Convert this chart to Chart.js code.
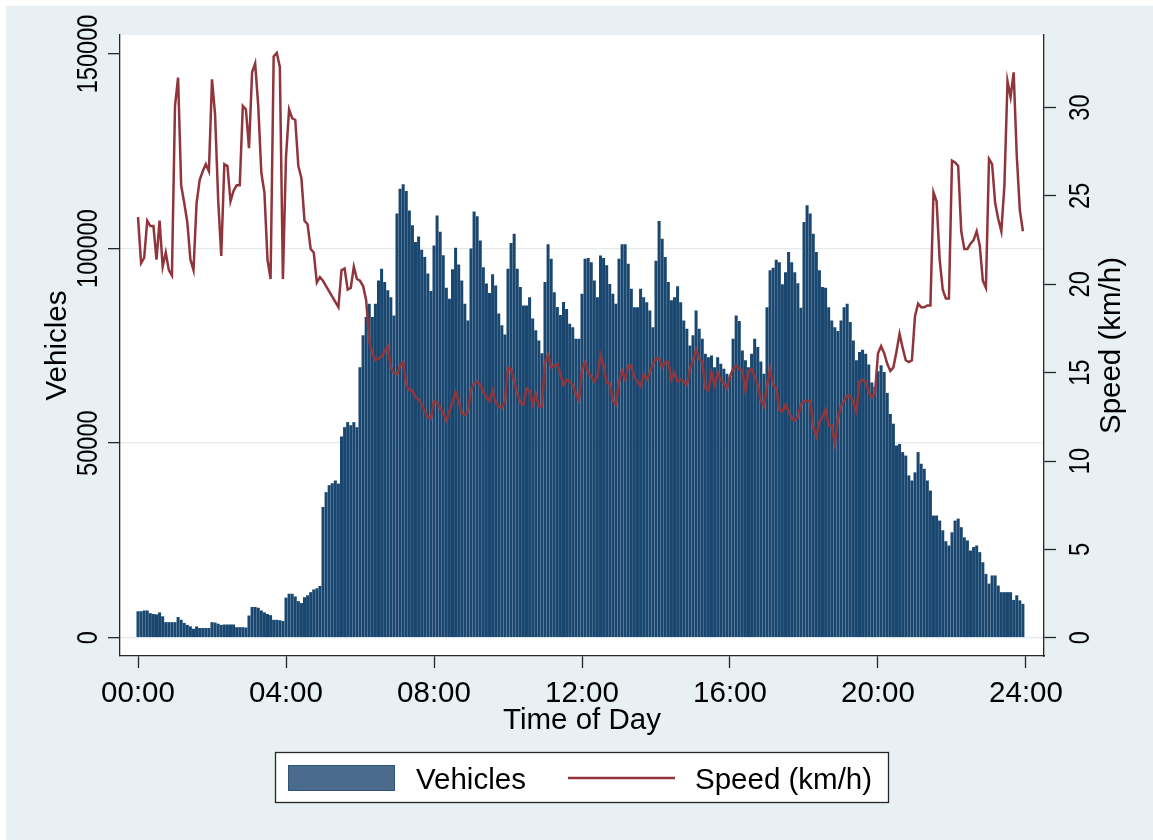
<!DOCTYPE html>
<html>
<head>
<meta charset="utf-8">
<title>Vehicles and speed by time of day</title>
<script src="https://cdn.jsdelivr.net/npm/chart.js@4.4.1/dist/chart.umd.min.js"></script>
<style>
  html, body { margin: 0; padding: 0; background: #fff; }
  canvas { display: block; }
</style>
</head>
<body>
<canvas id="chartTrafico" width="1153" height="840"></canvas>
<script>
// one value per 5-minute slot, 00:00 .. 23:55
const vehicles = [
  6800, 6800, 7000, 7000, 6300, 6100, 6000, 6500, 5500, 4000,
  4000, 4000, 4000, 5300, 4600, 3800, 3300, 2900, 2300, 2900,
  2500, 2500, 2500, 2500, 4000, 3900, 3600, 3300, 3400, 3400,
  3400, 3400, 2700, 2700, 2700, 2600, 5700, 7900, 7900, 7700,
  7000, 6500, 6100, 5800, 4600, 4600, 4500, 4300, 10300, 11300,
  11300, 10600, 9400, 8900, 10400, 10900, 11700, 12400, 12700, 13300,
  33600, 37400, 39200, 39700, 40400, 39600, 51700, 54100, 55400, 54600,
  55400, 54100, 69500, 77700, 82400, 85800, 82400, 85800, 91800, 94800,
  91400, 89300, 87500, 82800, 109000, 115400, 116500, 114800, 109800, 106000,
  101700, 103100, 99700, 97800, 93600, 89100, 100800, 108500, 104300, 98300,
  89900, 87100, 94700, 100200, 95900, 91800, 85800, 81500, 100000, 109500,
  108300, 102100, 95200, 91000, 88600, 93400, 90500, 83300, 80300, 77900,
  94800, 101400, 103800, 94800, 90100, 85400, 85400, 87500, 82000, 79000,
  76400, 73100, 91400, 101100, 97400, 88800, 85000, 82900, 86300, 84500,
  80700, 79800, 76800, 76800, 88400, 97400, 97600, 96500, 91800, 87500,
  98200, 97600, 95700, 90900, 88400, 85800, 97400, 101100, 101100, 96100,
  89700, 84900, 84900, 89700, 87500, 86200, 84100, 79800, 96900, 107100,
  102500, 97800, 91400, 86700, 87500, 90300, 86200, 81500, 79400, 75100,
  77700, 84100, 79400, 76800, 73000, 72100, 72500, 69500, 72100, 70400,
  69100, 67800, 67000, 76800, 82800, 81400, 73800, 71300, 69500, 73000,
  76800, 74700, 71000, 67800, 84900, 94400, 95100, 97100, 96500, 90800,
  93900, 99100, 96500, 93900, 91100, 84800, 106800, 111100, 109000, 103800,
  99100, 94400, 90100, 89900, 84900, 81500, 79800, 78800, 81500, 84900,
  85800, 81100, 76400, 71300, 73400, 74000, 73000, 70200, 65600, 64500,
  68500, 70000, 68300, 62900, 57500, 55000, 49400, 49800, 47700, 46800,
  41700, 40400, 42500, 47700, 44700, 43400, 40400, 37800, 31400, 31400,
  30100, 27600, 24800, 23700, 27100, 30100, 30600, 28400, 25800, 25000,
  22400, 23300, 23700, 22000, 19400, 16400, 13900, 16000, 16000, 13400,
  11700, 11700, 11700, 11700, 9700, 10900, 9600, 8700
];

const speed = [
  23.8, 21.2, 21.5, 23.6, 23.3, 23.3, 21.4, 23.6, 21.0, 21.8,
  20.8, 20.5, 30.1, 31.7, 25.6, 24.6, 23.5, 21.4, 20.8, 24.6,
  25.9, 26.4, 26.8, 26.4, 31.6, 29.6, 24.8, 21.6, 26.8, 26.7,
  24.7, 25.3, 25.6, 25.6, 30.1, 29.9, 27.7, 32.0, 32.5, 30.1,
  26.3, 25.2, 21.4, 20.3, 32.9, 33.1, 32.3, 20.3, 27.2, 29.9,
  29.4, 29.3, 26.7, 26.0, 23.6, 23.4, 22.0, 21.8, 20.1, 20.4,
  20.2, 19.9, 19.6, 19.3, 19.0, 18.7, 20.8, 20.9, 19.7, 19.8,
  21.0, 20.3, 20.2, 19.9, 19.1, 16.8, 16.1, 15.7, 15.8, 15.9,
  16.2, 16.5, 15.3, 15.0, 14.9, 15.4, 15.6, 14.3, 14.0, 14.0,
  13.6, 13.5, 13.2, 12.8, 12.5, 12.4, 13.4, 13.3, 13.0, 12.7,
  12.3, 12.8, 13.3, 13.9, 13.4, 12.7, 12.6, 12.8, 14.0, 14.4,
  14.5, 14.3, 13.9, 13.6, 13.4, 14.0, 13.3, 13.1, 13.0, 13.4,
  15.3, 15.2, 14.5, 13.8, 13.3, 13.2, 14.1, 14.0, 13.2, 13.8,
  13.1, 13.1, 15.6, 16.0, 15.3, 15.4, 15.5, 14.9, 14.3, 14.6,
  14.5, 14.3, 13.8, 13.4, 15.2, 15.6, 15.0, 14.8, 14.5, 14.8,
  16.0, 15.4, 14.4, 14.4, 13.4, 13.2, 14.5, 15.1, 14.6, 15.4,
  15.4, 14.7, 14.5, 14.2, 14.9, 14.6, 15.0, 15.5, 15.8, 15.8,
  15.3, 15.6, 15.6, 14.6, 15.0, 14.5, 14.6, 14.5, 14.3, 15.2,
  15.7, 16.3, 15.8, 15.6, 14.1, 14.0, 15.0, 14.3, 15.0, 14.6,
  14.4, 14.1, 14.8, 15.2, 15.4, 15.2, 15.1, 14.0, 15.1, 15.2,
  14.8, 14.3, 13.4, 13.1, 14.3, 15.2, 14.3, 14.1, 12.9, 12.8,
  13.2, 12.8, 12.4, 12.3, 12.5, 13.2, 13.4, 13.4, 13.4, 11.9,
  11.4, 12.2, 12.5, 12.9, 12.0, 12.0, 11.0, 12.4, 13.1, 13.4,
  13.7, 13.7, 13.3, 12.8, 14.5, 14.6, 14.5, 13.9, 13.6, 13.8,
  16.1, 16.5, 16.1, 15.5, 15.1, 15.3, 16.2, 17.2, 16.4, 15.7,
  15.6, 15.7, 18.2, 18.9, 18.7, 18.7, 18.8, 18.8, 25.2, 24.7,
  21.4, 19.7, 19.2, 19.2, 27.0, 26.9, 26.7, 23.0, 22.0, 22.0,
  22.3, 22.5, 23.0, 22.2, 20.2, 19.8, 27.1, 26.8, 24.6, 23.7,
  23.0, 25.6, 31.5, 30.6, 32.0, 27.3, 24.2, 23.0
];

const hourTicks = [0, 4, 8, 12, 16, 20, 24];
const hourLabels = ["00:00", "04:00", "08:00", "12:00", "16:00", "20:00", "24:00"];
const vehicleTicks = [0, 50000, 100000, 150000];
const speedTicks = [0, 5, 10, 15, 20, 25, 30];

// slot start in hours
const slotHours = vehicles.map((_, i) => i * 5 / 60);

const FONT = '"Liberation Sans", Arial, Helvetica, sans-serif';
const NAVY = "#1a476f";
const MAROON = "#90353b";
const FONDO = "#e8f0f3";
const GRILLA = "#e2eaee";
const EJE = "#262626";

function fixTicks(values) {
  return scale => { scale.ticks = values.map(v => ({ value: v })); };
}

// texto girado 90 grados, se lee de abajo hacia arriba
function textoVertical(ctx, txt, x, y, squeeze) {
  ctx.save();
  ctx.translate(x, y);
  ctx.rotate(-Math.PI / 2);
  ctx.scale(squeeze, 1);
  ctx.fillText(txt, 0, 0);
  ctx.restore();
}

const marcoStata = {
  id: "marcoStata",
  beforeDraw(chart) {
    const { ctx, chartArea: a, width, height } = chart;
    ctx.save();
    ctx.fillStyle = "#fff";
    ctx.fillRect(0, 0, width, height);
    ctx.fillStyle = FONDO;
    ctx.fillRect(6, 6, width - 6, height - 6);
    ctx.fillStyle = "#fff";
    ctx.fillRect(a.left, a.top, a.right - a.left, a.bottom - a.top);
    ctx.restore();
  },
  afterDraw(chart) {
    const { ctx, chartArea: a, scales } = chart;
    ctx.save();
    ctx.fillStyle = "#000";
    ctx.font = "29.5px " + FONT;
    ctx.textAlign = "center";
    ctx.textBaseline = "alphabetic";

    // ejes
    hourTicks.forEach((h, k) => ctx.fillText(hourLabels[k], scales.x.getPixelForValue(h), 702));
    ctx.fillText("Time of Day", (a.left + a.right) / 2, 729);
    vehicleTicks.forEach(v => textoVertical(ctx, String(v), 97, scales.y.getPixelForValue(v), 0.8));
    speedTicks.forEach(v => textoVertical(ctx, String(v), 1089, scales.y1.getPixelForValue(v), 0.8));
    const midY = (a.top + a.bottom) / 2;
    textoVertical(ctx, chart.data.datasets[1].label, 66, midY, 1);
    textoVertical(ctx, chart.data.datasets[0].label, 1120, midY, 1);

    // leyenda
    ctx.fillStyle = "#fff";
    ctx.fillRect(275, 752, 614, 51);
    ctx.strokeStyle = EJE;
    ctx.lineWidth = 1.3;
    ctx.strokeRect(275.5, 752.5, 613, 50);
    ctx.fillStyle = "#4a6b8b";
    ctx.fillRect(288, 765, 107, 26);
    ctx.strokeStyle = "#2f5477";
    ctx.lineWidth = 1;
    ctx.strokeRect(288.5, 765.5, 106, 25);
    ctx.strokeStyle = MAROON;
    ctx.lineWidth = 2.4;
    ctx.beginPath();
    ctx.moveTo(568, 778);
    ctx.lineTo(675, 778);
    ctx.stroke();
    ctx.fillStyle = "#000";
    ctx.textAlign = "left";
    ctx.fillText(chart.data.datasets[1].label, 416, 789);
    ctx.fillText(chart.data.datasets[0].label, 695, 789);
    ctx.restore();
  }
};

new Chart(document.getElementById("chartTrafico"), {
  type: "bar",
  data: {
    datasets: [
      {
        type: "line",
        label: "Speed (km/h)",
        data: slotHours.map((x, i) => ({ x, y: speed[i] })),
        yAxisID: "y1",
        borderColor: MAROON,
        borderWidth: 2.5,
        pointRadius: 0,
        tension: 0,
        order: 0
      },
      {
        type: "bar",
        label: "Vehicles",
        data: slotHours.map((x, i) => ({ x, y: vehicles[i] })),
        yAxisID: "y",
        backgroundColor: NAVY,
        borderWidth: 0,
        barPercentage: 0.98,
        categoryPercentage: 1,
        order: 1
      }
    ]
  },
  options: {
    responsive: false,
    animation: false,
    devicePixelRatio: 1,
    layout: { padding: { top: 35, left: 0, right: 0, bottom: 0 } },
    plugins: { legend: { display: false }, tooltip: { enabled: false } },
    scales: {
      x: {
        type: "linear",
        min: -0.4865,
        max: 24.4865,
        offset: false,
        afterBuildTicks: fixTicks(hourTicks),
        afterFit: s => { s.height = 184; },
        ticks: { display: false },
        grid: { offset: false, drawOnChartArea: false, tickLength: 12, tickColor: EJE, tickWidth: 1.3 },
        border: { color: EJE, width: 1.3 }
      },
      y: {
        position: "left",
        min: -4700,
        max: 154880,
        afterBuildTicks: fixTicks(vehicleTicks),
        afterFit: s => { s.width = 120; },
        ticks: { display: false },
        grid: {
          color: c => (c.tick && c.tick.value < 150000 ? GRILLA : "rgba(0,0,0,0)"),
          lineWidth: 1.3,
          tickLength: 12,
          tickColor: EJE,
          tickWidth: 1.3
        },
        border: { color: EJE, width: 1.3 }
      },
      y1: {
        position: "right",
        min: -1.036,
        max: 34.11,
        afterBuildTicks: fixTicks(speedTicks),
        afterFit: s => { s.width = 109; },
        ticks: { display: false },
        grid: { drawOnChartArea: false, tickLength: 12, tickColor: EJE, tickWidth: 1.3 },
        border: { color: EJE, width: 1.3 }
      }
    }
  },
  plugins: [marcoStata]
});
</script>
</body>
</html>
